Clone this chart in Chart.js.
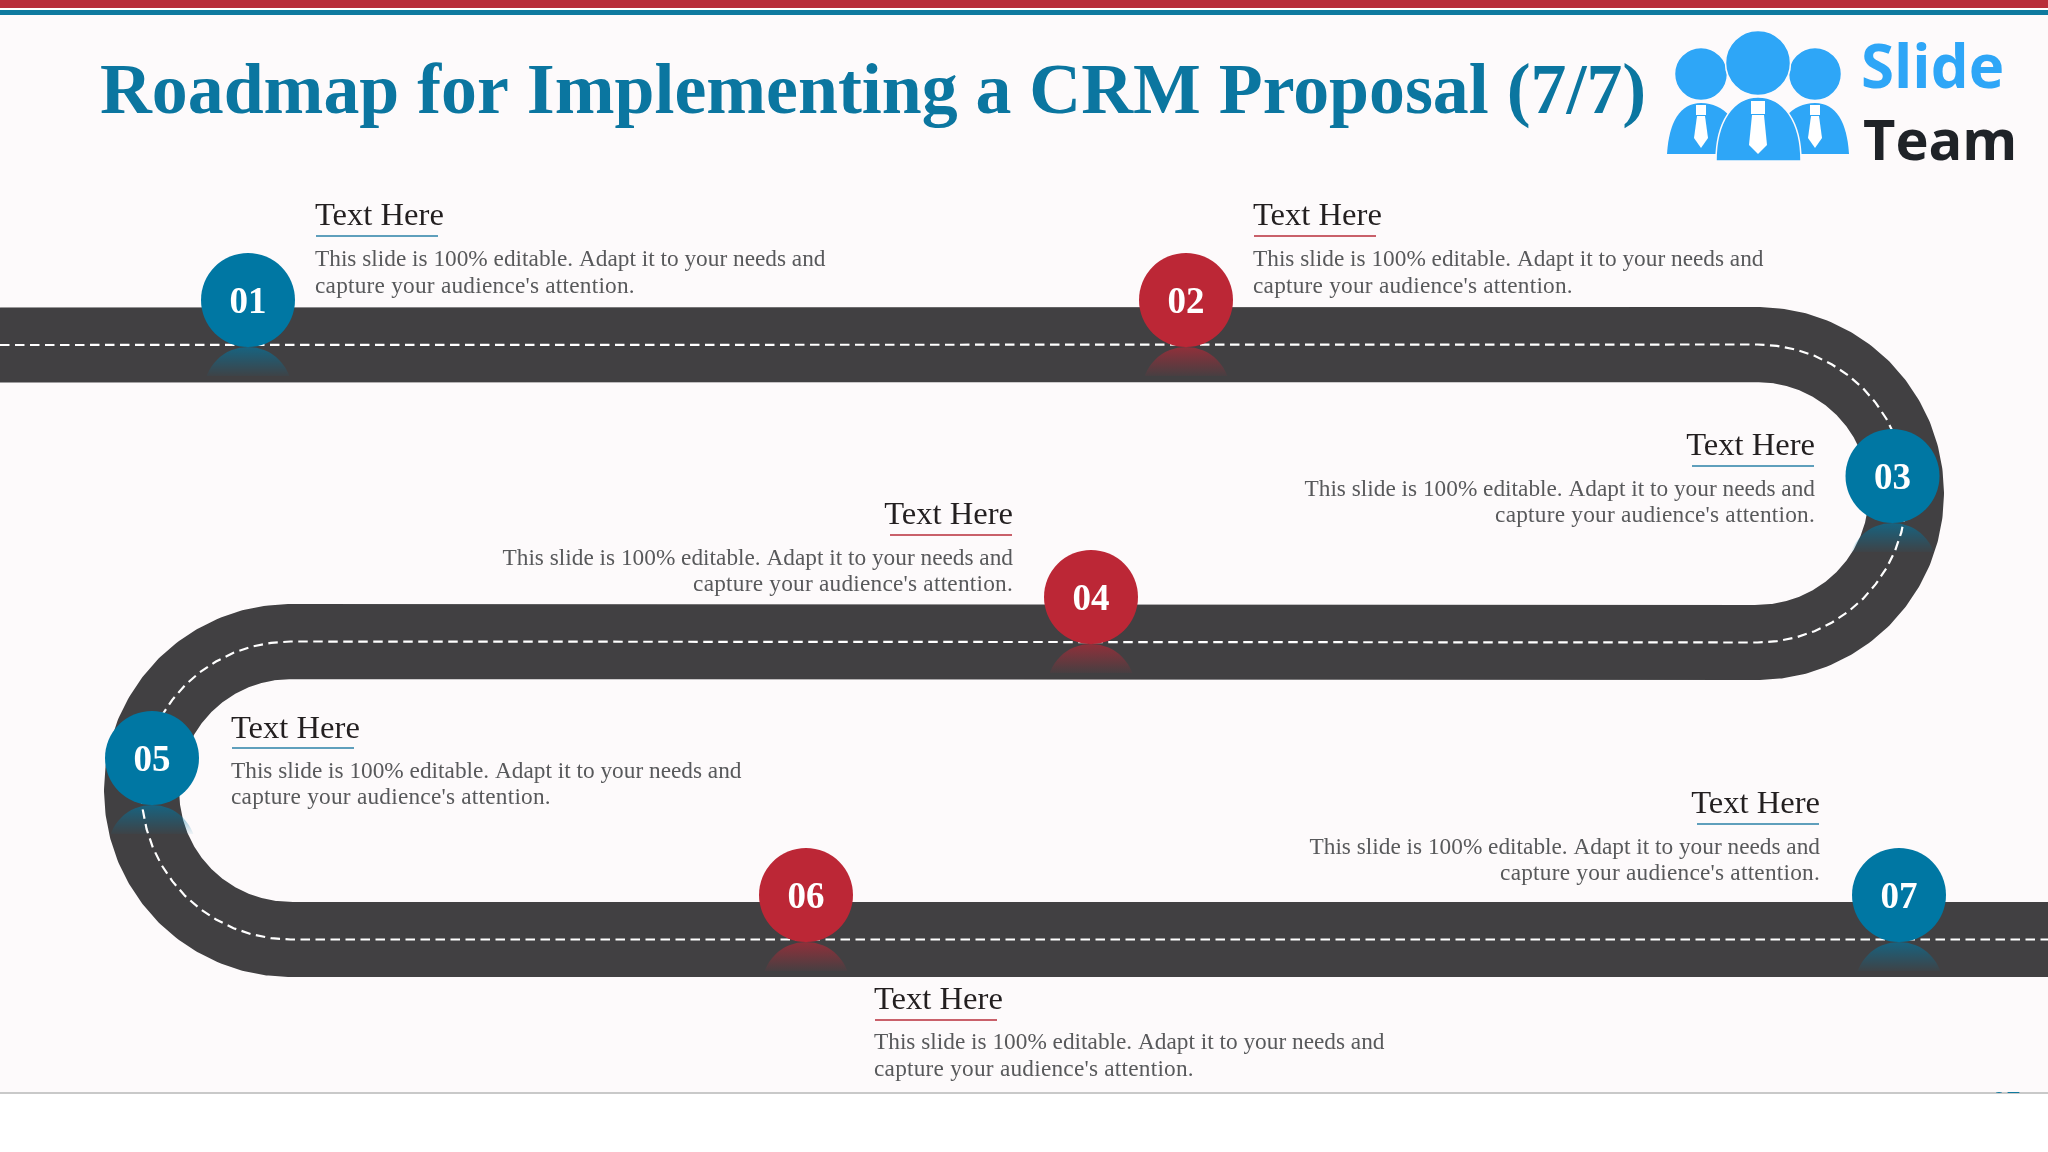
<!DOCTYPE html>
<html>
<head>
<meta charset="utf-8">
<title>Roadmap for Implementing a CRM Proposal (7/7)</title>
<script src="https://cdn.jsdelivr.net/npm/chart.js@4/dist/chart.umd.min.js"></script>
<style>
	html, body { margin: 0; padding: 0; background: #ffffff; }
	canvas { display: block; }
</style>
</head>
<body>
<canvas id="roadmap" width="2048" height="1152"></canvas>
<script>
var titleText = "Roadmap for Implementing a CRM Proposal (7/7)";
var stepLabels = ["01", "02", "03", "04", "05", "06", "07"];
var stepHeadings = ["Text Here", "Text Here", "Text Here", "Text Here", "Text Here", "Text Here", "Text Here"];
var bodyLine1 = "This slide is 100% editable. Adapt it to your needs and";
var bodyLine2 = "capture your audience's attention.";

// where the steps sit along the road
var stepX = [248, 1186, 1892.5, 1091, 152, 806, 1899];
var stepY = [300, 300, 476, 597, 758, 895, 895];

// centre line of the road
var roadX = [0, 1757.5, 1776.9, 1796.1, 1814.5, 1832, 1848.2, 1862.9, 1875.7, 1886.5, 1895.2, 1901.4, 1905.2, 1906.5,
	1905.2, 1901.4, 1895.2, 1886.5, 1875.7, 1862.9, 1848.2, 1832, 1814.5, 1796.1, 1776.9, 1757.5,
	290.5, 271.1, 251.9, 233.5, 216, 199.8, 185.1, 172.3, 161.5, 152.8, 146.6, 142.8, 141.5,
	142.8, 146.6, 152.8, 161.5, 172.3, 185.1, 199.8, 216, 233.5, 251.9, 271.1, 290.5, 2048];
var roadY = [345, 344.5, 345.8, 349.6, 355.8, 364.5, 375.3, 388.1, 402.8, 419, 436.5, 454.9, 474.1, 493.5,
	512.9, 532.1, 550.5, 568, 584.2, 598.9, 611.7, 622.5, 631.2, 637.4, 641.2, 642.5,
	641.5, 642.8, 646.6, 652.8, 661.5, 672.3, 685.1, 699.8, 716, 733.5, 751.9, 771.1, 790.5,
	809.9, 829.1, 847.5, 865, 881.2, 895.9, 908.7, 919.5, 928.2, 934.4, 938.2, 939.5, 939.5];

var TEAL = "#0077a3";
var RED = "#bc2736";
var stepColors = [TEAL, RED, TEAL, RED, TEAL, RED, TEAL];
var reflectColors = ["0,119,163", "188,39,54", "0,119,163", "188,39,54", "0,119,163", "188,39,54", "0,119,163"];

// text blocks: alignment, anchor x, heading baseline, rule, two body baselines
var blocks = [
	{ align: "left", x: 315, head: 225, rule: 236, b1: 266, b2: 293, rc: "#5f9fbc" },
	{ align: "left", x: 1253, head: 225, rule: 236, b1: 266, b2: 293, rc: "#c9606a" },
	{ align: "right", x: 1815, head: 455, rule: 466, b1: 496, b2: 522, rc: "#5f9fbc" },
	{ align: "right", x: 1013, head: 524, rule: 535, b1: 565, b2: 591, rc: "#c9606a" },
	{ align: "left", x: 231, head: 738, rule: 748, b1: 778, b2: 804, rc: "#5f9fbc" },
	{ align: "left", x: 874, head: 1009, rule: 1020, b1: 1049, b2: 1076, rc: "#c9606a" },
	{ align: "right", x: 1820, head: 813, rule: 824, b1: 854, b2: 880, rc: "#5f9fbc" }
];

function makePoints(xs, ys)
{
	return xs.map(function(x, i) { return { x: x, y: ys[i] }; });
}

function drawSlide(ctx)
{
	ctx.fillStyle = "#ffffff";
	ctx.fillRect(0, 0, 2048, 1152);
	ctx.fillStyle = "#fdfafb";
	ctx.fillRect(0, 0, 2048, 1093);
	ctx.fillStyle = "#b92d3a";
	ctx.fillRect(0, 0, 2048, 8);
	ctx.fillStyle = "#ffffff";
	ctx.fillRect(0, 8, 2048, 2);
	ctx.fillStyle = "#0f7a9f";
	ctx.fillRect(0, 10, 2048, 5);
	ctx.fillStyle = "#c9c9c9";
	ctx.fillRect(0, 1092, 2048, 2);
}

function drawLogo(ctx)
{
	ctx.save();
	ctx.fillStyle = "#2ea6f7";
	ctx.strokeStyle = "#fdfafb";
	ctx.lineWidth = 1.5;

	// side bodies first, the middle one overlaps them
	ctx.beginPath();
	ctx.moveTo(1667, 154);
	ctx.bezierCurveTo(1669, 122, 1680, 103, 1701, 103);
	ctx.bezierCurveTo(1713, 103, 1722, 108, 1730, 116);
	ctx.lineTo(1724, 154);
	ctx.closePath();
	ctx.fill();

	ctx.beginPath();
	ctx.moveTo(1849, 154);
	ctx.bezierCurveTo(1847, 122, 1836, 103, 1815, 103);
	ctx.bezierCurveTo(1803, 103, 1794, 108, 1786, 116);
	ctx.lineTo(1792, 154);
	ctx.closePath();
	ctx.fill();

	ctx.beginPath();
	ctx.moveTo(1716, 161);
	ctx.bezierCurveTo(1716, 122, 1733, 97, 1758, 97);
	ctx.bezierCurveTo(1784, 97, 1801, 122, 1801, 161);
	ctx.closePath();
	ctx.fill();
	ctx.stroke();

	[[1701, 74, 26.5], [1815, 74, 26.5], [1758, 63, 32.5]].forEach(function(h)
	{
		ctx.beginPath();
		ctx.arc(h[0], h[1], h[2], 0, Math.PI * 2);
		ctx.fill();
		ctx.stroke();
	});

	// ties
	ctx.fillStyle = "#ffffff";
	[[1701, 5, 7, 105, 116, 138, 148], [1815, 5, 7, 105, 116, 138, 148], [1758, 7, 9, 101, 115, 145, 154]].forEach(function(t)
	{
		ctx.fillRect(t[0] - t[1], t[3], t[1] * 2, t[4] - t[3] - 1);
		ctx.beginPath();
		ctx.moveTo(t[0] - t[1] + 1, t[4]);
		ctx.lineTo(t[0] + t[1] - 1, t[4]);
		ctx.lineTo(t[0] + t[2], t[5]);
		ctx.lineTo(t[0], t[6]);
		ctx.lineTo(t[0] - t[2], t[5]);
		ctx.closePath();
		ctx.fill();
	});

	ctx.textAlign = "left";
	ctx.textBaseline = "alphabetic";
	ctx.font = "bold 60px 'Open Sans'";
	ctx.fillStyle = "#2ea6f7";
	ctx.fillText("Slide", 1861, 88);
	ctx.font = "bold 56px 'Open Sans'";
	ctx.fillStyle = "#1f2328";
	ctx.fillText("Team", 1863, 160);
	ctx.restore();
}

function drawTexts(ctx)
{
	ctx.save();
	ctx.textBaseline = "alphabetic";

	ctx.textAlign = "left";
	ctx.fillStyle = "#0b76a0";
	ctx.font = "bold 71.8px 'Liberation Serif'";
	ctx.fillText(titleText, 100, 113);

	blocks.forEach(function(b, i)
	{
		ctx.textAlign = b.align;
		ctx.fillStyle = "#231f20";
		ctx.font = "32.6px 'Liberation Serif'";
		ctx.fillText(stepHeadings[i], b.x, b.head);

		ctx.fillStyle = b.rc;
		ctx.fillRect(b.align == "left" ? b.x + 1 : b.x - 123, b.rule - 1, 122, 2);

		ctx.fillStyle = "#58595b";
		ctx.font = "23.3px 'Liberation Serif'";
		ctx.fillText(bodyLine1, b.x, b.b1);
		ctx.letterSpacing = "0.23px";
		ctx.fillText(bodyLine2, b.x, b.b2);
		ctx.letterSpacing = "0px";
	});

	// page number, cut off by the white strip in the original
	ctx.beginPath();
	ctx.rect(1980, 1085, 50, 8);
	ctx.clip();
	ctx.textAlign = "left";
	ctx.fillStyle = "#0f7a9f";
	ctx.font = "bold 28px 'Liberation Serif'";
	ctx.fillText("07", 1992, 1110);
	ctx.restore();
}

// fading mirror image under each circle, sits between road and dashes
var reflectionPlugin = {
	id: "reflection",
	afterDatasetDraw: function(chart, args)
	{
		if (args.index != 0)
			return;
		var ctx = chart.ctx;
		var xs = chart.scales.x;
		var ys = chart.scales.y;
		stepX.forEach(function(v, i)
		{
			var px = xs.getPixelForValue(v);
			var top = ys.getPixelForValue(stepY[i]) + 47;
			var grad = ctx.createLinearGradient(0, top, 0, top + 29);
			grad.addColorStop(0, "rgba(" + reflectColors[i] + ",0.65)");
			grad.addColorStop(1, "rgba(" + reflectColors[i] + ",0.05)");
			ctx.save();
			ctx.beginPath();
			ctx.rect(px - 50, top, 100, 29);
			ctx.clip();
			ctx.beginPath();
			ctx.arc(px, top + 44, 44, 0, Math.PI * 2);
			ctx.fillStyle = grad;
			ctx.fill();
			ctx.restore();
		});
	}
};

var slidePlugin = {
	id: "slide",
	beforeDraw: function(chart)
	{
		drawSlide(chart.ctx);
	},
	afterDatasetsDraw: function(chart)
	{
		var ctx = chart.ctx;
		var xs = chart.scales.x;
		var ys = chart.scales.y;
		ctx.save();
		ctx.textAlign = "center";
		ctx.textBaseline = "middle";
		ctx.fillStyle = "#ffffff";
		ctx.font = "bold 37px 'Liberation Serif'";
		stepLabels.forEach(function(l, i)
		{
			ctx.fillText(l, xs.getPixelForValue(stepX[i]), ys.getPixelForValue(stepY[i]) + 3);
		});
		ctx.restore();
		drawTexts(ctx);
		drawLogo(ctx);
	}
};

var chartCtx = document.getElementById("roadmap").getContext("2d");
var roadmapChart = new Chart(chartCtx, {
	type: "scatter",
	data: {
		datasets: [
			{
				// road surface
				data: makePoints(roadX, roadY),
				showLine: true,
				borderColor: "#414042",
				borderWidth: 75,
				borderCapStyle: "butt",
				borderJoinStyle: "round",
				pointRadius: 0,
				order: 3
			},
			{
				// centre dashes
				data: makePoints(roadX, roadY),
				showLine: true,
				borderColor: "#ffffff",
				borderWidth: 2.2,
				borderDash: [9.5, 5.5],
				pointRadius: 0,
				order: 2
			},
			{
				// numbered circles
				data: makePoints(stepX, stepY),
				showLine: false,
				pointRadius: 47,
				pointBorderWidth: 0,
				pointBackgroundColor: stepColors,
				order: 1
			}
		]
	},
	options: {
		responsive: false,
		animation: false,
		devicePixelRatio: 1,
		layout: { padding: 0, autoPadding: false },
		plugins: {
			legend: { display: false },
			tooltip: { enabled: false }
		},
		scales: {
			x: { type: "linear", min: 0, max: 2048, display: false },
			y: { type: "linear", min: 0, max: 1152, reverse: true, display: false }
		}
	},
	plugins: [reflectionPlugin, slidePlugin]
});
</script>
</body>
</html>
